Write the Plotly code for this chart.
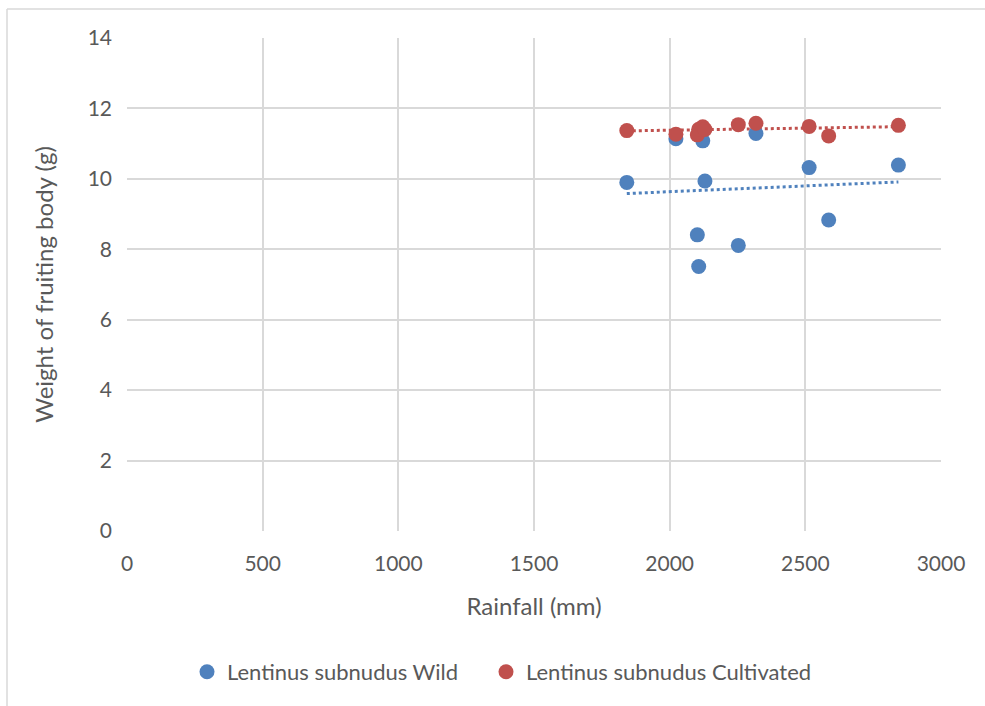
import numpy as np
import plotly.graph_objects as go

rain_wild = [1842, 2023, 2122, 2130, 2102, 2107, 2253, 2318, 2514, 2586, 2843]
wt_wild = [9.90, 11.14, 11.08, 9.94, 8.41, 7.51, 8.11, 11.29, 10.32, 8.83, 10.39]

rain_cult = [1842, 2023, 2102, 2107, 2122, 2130, 2253, 2318, 2514, 2586, 2843]
wt_cult = [11.37, 11.27, 11.25, 11.41, 11.48, 11.40, 11.54, 11.58, 11.49, 11.22, 11.52]

x_ticks = [0, 500, 1000, 1500, 2000, 2500, 3000]
y_ticks = [0, 2, 4, 6, 8, 10, 12, 14]

BLUE = "#4F81BD"
RED = "#C0504D"
FONT = "Lato"
GREY = "#595959"

fig = go.Figure()

def trend(xs, ys):
    m, b = np.polyfit(xs, ys, 1)
    xx = np.array([min(xs), max(xs)])
    return xx, m * xx + b

tx, ty = trend(rain_wild, wt_wild)
fig.add_trace(go.Scatter(x=tx, y=ty, mode="lines", showlegend=False, hoverinfo="skip",
                         line=dict(color=BLUE, width=3, dash="dot")))
tx, ty = trend(rain_cult, wt_cult)
fig.add_trace(go.Scatter(x=tx, y=ty, mode="lines", showlegend=False, hoverinfo="skip",
                         line=dict(color=RED, width=3, dash="dot")))

fig.add_trace(go.Scatter(x=rain_wild, y=wt_wild, mode="markers", name="Lentinus subnudus Wild",
                         marker=dict(color=BLUE, size=15), legend="legend"))
fig.add_trace(go.Scatter(x=rain_cult, y=wt_cult, mode="markers", name="Lentinus subnudus Cultivated",
                         marker=dict(color=RED, size=15), legend="legend2"))

leg_common = dict(orientation="h", xanchor="left", y=-0.286, yanchor="middle",
                  font=dict(size=22, color=GREY), itemwidth=30, bgcolor="rgba(0,0,0,0)")

fig.update_layout(
    width=985, height=706,
    margin=dict(l=127, r=44, t=38, b=175),
    paper_bgcolor="white", plot_bgcolor="white",
    font=dict(family=FONT, color=GREY, size=21),
    xaxis=dict(range=[0, 3000], tickvals=x_ticks, showgrid=True, gridcolor="#D9D9D9", gridwidth=1.5,
               zeroline=False, showline=False, ticks="", tickfont=dict(size=21, color=GREY),
               ticklabelstandoff=18,
               title=dict(text="Rainfall (mm)", font=dict(size=24, color=GREY), standoff=24)),
    yaxis=dict(range=[0, 14], tickvals=y_ticks, showgrid=True, gridcolor="#D9D9D9", gridwidth=1.5,
               zeroline=False, showline=False, ticks="", tickfont=dict(size=21, color=GREY),
               ticklabelstandoff=14,
               title=dict(text="Weight of fruiting body (g)", font=dict(size=24, color=GREY), standoff=27)),
    legend=dict(x=(187 - 127) / 814, **leg_common),
    legend2=dict(x=(486 - 127) / 814, **leg_common),
    showlegend=True,
)

# outer chart border (top and left edges visible)
fig.add_shape(type="line", xref="paper", yref="paper",
              x0=(7 - 127) / 814, x1=(990 - 127) / 814, y0=(531 - 9) / 493, y1=(531 - 9) / 493,
              line=dict(color="#D9D9D9", width=1.5))
fig.add_shape(type="line", xref="paper", yref="paper",
              x0=(7 - 127) / 814, x1=(7 - 127) / 814, y0=(531 - 9) / 493, y1=(531 - 710) / 493,
              line=dict(color="#D9D9D9", width=1.5))

fig.write_html("out.html")
